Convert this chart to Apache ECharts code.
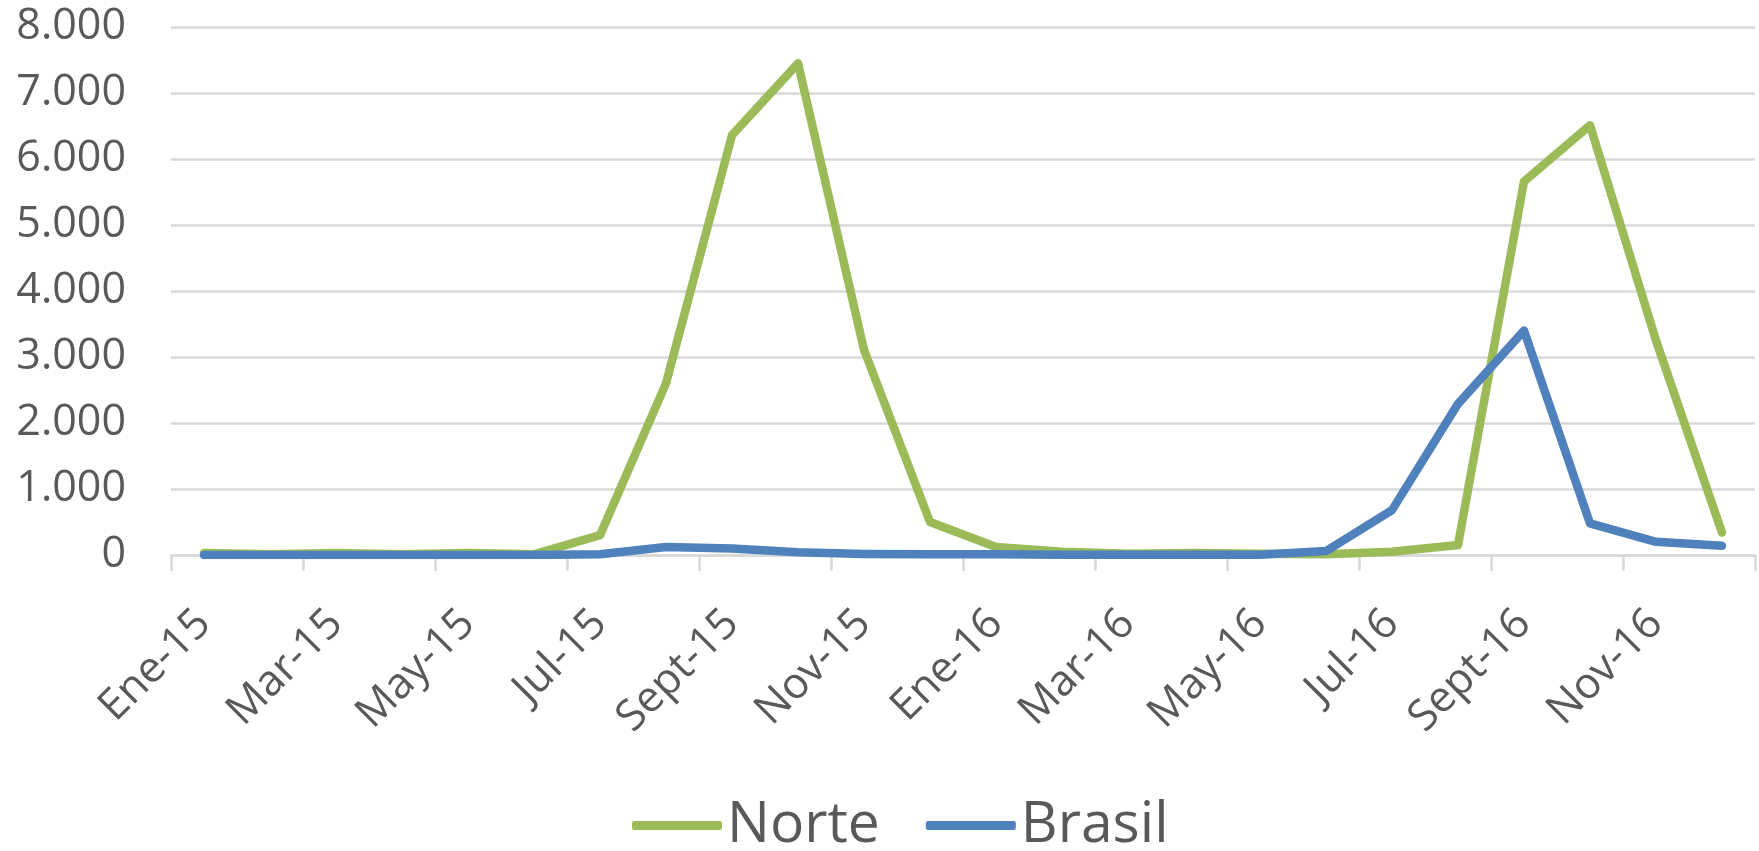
<!DOCTYPE html>
<html>
<head>
<meta charset="utf-8">
<script src="https://cdn.jsdelivr.net/npm/echarts@6/dist/echarts.min.js"></script>
<style>
html,body{margin:0;padding:0;background:#fff;}
#chart{width:1759px;height:851px;}
</style>
</head>
<body>
<div id="chart"></div>
<script>
const categories = ['Ene-15','Feb-15','Mar-15','Abr-15','May-15','Jun-15','Jul-15','Ago-15','Sept-15','Oct-15','Nov-15','Dic-15',
                    'Ene-16','Feb-16','Mar-16','Abr-16','May-16','Jun-16','Jul-16','Ago-16','Sept-16','Oct-16','Nov-16','Dic-16'];
const norte  = [30,10,30,10,30,10,300,2600,6360,7450,3110,500,120,50,20,30,20,10,50,150,5660,6510,3250,340];
const brasil = [0,0,0,0,0,0,10,120,100,40,15,10,10,5,5,5,5,60,680,2290,3400,480,200,140];
const seriesNames = ['Norte','Brasil'];
const yTicks = {min:0, max:8000, interval:1000};

const FONT = '"Open Sans", sans-serif';
const chart = echarts.init(document.getElementById('chart'));
chart.setOption({
  animation:false,
  backgroundColor:'#ffffff',
  grid:{left:171, right:4, top:27, bottom:296, containLabel:false},
  legend:{
    data:seriesNames,
    left:632, top:797,
    padding:0,
    itemGap:46,
    itemWidth:90, itemHeight:9,
    icon:'roundRect',
    textStyle:{fontFamily:FONT, fontSize:57, color:'#595959'}
  },
  xAxis:{
    type:'category',
    data:categories,
    boundaryGap:true,
    axisLine:{lineStyle:{color:'#D9D9D9', width:2.5}},
    axisTick:{show:true, interval:1, length:16, lineStyle:{color:'#D9D9D9', width:2.5}},
    axisLabel:{interval:1, rotate:45, margin:62, fontFamily:FONT, fontSize:43, color:'#595959'},
    splitLine:{show:false}
  },
  yAxis:{
    type:'value',
    min:yTicks.min, max:yTicks.max, interval:yTicks.interval,
    axisLine:{show:false}, axisTick:{show:false},
    axisLabel:{margin:45, fontFamily:FONT, fontSize:43, color:'#595959',
      formatter:v => v.toLocaleString('de-DE')},
    splitLine:{lineStyle:{color:'#D9D9D9', width:2.5}}
  },
  series:[
    {name:seriesNames[0], type:'line', data:norte, symbol:'none', color:'#9BBB59',
     lineStyle:{width:8.5, color:'#9BBB59', cap:'round', join:'round'}},
    {name:seriesNames[1], type:'line', data:brasil, symbol:'none', color:'#4F81BD',
     lineStyle:{width:8.5, color:'#4F81BD', cap:'round', join:'round'}}
  ]
});
</script>
</body>
</html>
